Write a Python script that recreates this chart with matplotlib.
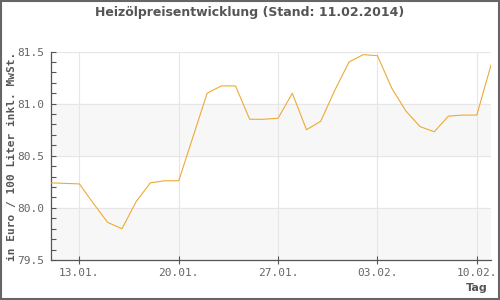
import matplotlib
matplotlib.use("Agg")
from matplotlib import pyplot as plt
from matplotlib.ticker import MultipleLocator

# Daten: Heizoelpreis pro Tag, 11.01.2014 bis 11.02.2014
tage = list(range(32))
preise = [80.24, 80.235, 80.23, 80.04, 79.86, 79.80, 80.06, 80.24, 80.26, 80.26,
          80.68, 81.10, 81.17, 81.17, 80.85, 80.85, 80.86, 81.10, 80.75, 80.83,
          81.13, 81.40, 81.47, 81.46, 81.15, 80.93, 80.78, 80.73, 80.88, 80.89,
          80.89, 81.37]
tick_pos = [2, 9, 16, 23, 30]
tick_labels = ["13.01.", "20.01.", "27.01.", "03.02.", "10.02."]

grau = "#555555"

fig = plt.figure(figsize=(5, 3), dpi=100)
ax = fig.add_axes([0.102, 0.1333, 0.880, 0.695])

# Hintergrundstreifen
ax.axhspan(79.5, 80.0, color="#f7f7f7", zorder=0)
ax.axhspan(80.5, 81.0, color="#f7f7f7", zorder=0)

ax.plot(tage, preise, color="#eeaa33", linewidth=0.8, zorder=3)

ax.set_xlim(0, 31)
ax.set_ylim(79.5, 81.5)
ax.set_xticks(tick_pos)
ax.set_xticklabels(tick_labels)
ax.yaxis.set_major_locator(MultipleLocator(0.5))
ax.yaxis.set_minor_locator(MultipleLocator(0.1))
ax.yaxis.set_major_formatter(plt.FormatStrFormatter("%.1f"))

ax.grid(True, color="#e6e6e6", linewidth=0.8, zorder=1)
ax.set_axisbelow(True)

for s in ["top", "right"]:
    ax.spines[s].set_visible(False)
for s in ["left", "bottom"]:
    ax.spines[s].set_color(grau)
    ax.spines[s].set_linewidth(0.9)

ax.tick_params(axis="y", which="both", direction="in", length=3.5, width=0.8,
               color=grau, labelcolor="#666666", labelsize=8, pad=5)
ax.tick_params(axis="x", direction="inout", length=6, width=0.8,
               color=grau, labelcolor="#666666", labelsize=8, pad=3)
for lab in ax.get_xticklabels() + ax.get_yticklabels():
    lab.set_family("DejaVu Sans Mono")

fig.text(0.5, 0.957, "Heizölpreisentwicklung (Stand: 11.02.2014)", ha="center", va="center",
         fontsize=9, fontweight="bold", color=grau, family="DejaVu Sans")
fig.text(0.024, 0.48, "in Euro / 100 Liter inkl. MwSt.", rotation=90, ha="center", va="center",
         fontsize=8, fontweight="bold", color=grau, family="DejaVu Sans Mono")
fig.text(0.976, 0.04, "Tag", ha="right", va="center",
         fontsize=8, fontweight="bold", color=grau, family="DejaVu Sans")

# Rahmen um die ganze Grafik
fig.patches.append(plt.Rectangle((0.001, 0.002), 0.997, 0.995, transform=fig.transFigure,
                                 fill=False, edgecolor="#666666", linewidth=1.5))

fig.savefig("out.png", dpi=100)
